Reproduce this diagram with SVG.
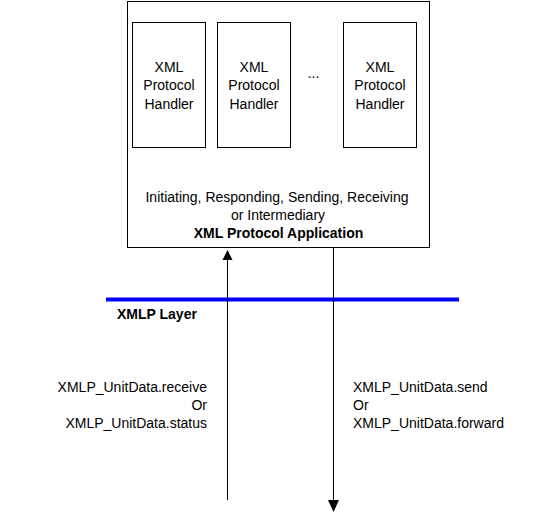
<svg xmlns="http://www.w3.org/2000/svg" width="560" height="514" viewBox="0 0 560 514">
<style>
.box{fill:#fff;stroke:#000;stroke-width:1}
.t{font-family:"Liberation Sans",Arial,sans-serif;font-size:14px;fill:#000}
.b{font-weight:bold}
.m{text-anchor:middle}
.e{text-anchor:end}
.ln{stroke:#000;stroke-width:1;fill:none}
</style>
<rect width="560" height="514" fill="#fff"/>
<g id="app">
<rect class="box" x="127.5" y="1.5" width="302" height="246"/>
<text class="t m" x="277" y="202">Initiating, Responding, Sending, Receiving</text>
<text class="t m" x="278" y="220">or Intermediary</text>
<text class="t b m" x="278.5" y="238">XML Protocol Application</text>
</g>
<g id="handler1">
<rect class="box" x="132.5" y="22.5" width="73" height="125"/>
<text class="t m" x="169" y="71.5">XML</text>
<text class="t m" x="169" y="90">Protocol</text>
<text class="t m" x="169" y="108.5">Handler</text>
</g>
<g id="handler2">
<rect class="box" x="217.5" y="22.5" width="73" height="125"/>
<text class="t m" x="254" y="71.5">XML</text>
<text class="t m" x="254" y="90">Protocol</text>
<text class="t m" x="254" y="108.5">Handler</text>
</g>
<g id="ellipsis">
<text class="t m" x="313.5" y="78">...</text>
</g>
<g id="handler3">
<rect class="box" x="343.5" y="22.5" width="73" height="125"/>
<text class="t m" x="380" y="71.5">XML</text>
<text class="t m" x="380" y="90">Protocol</text>
<text class="t m" x="380" y="108.5">Handler</text>
</g>
<g id="layer">
<line x1="106" y1="299.5" x2="459" y2="299.5" stroke="#0000ff" stroke-width="4"/>
<text class="t b" x="117" y="319">XMLP Layer</text>
</g>
<g id="connectors">
<line class="ln" x1="227.5" y1="500" x2="227.5" y2="258"/>
<polygon points="227.5,250 222.5,260 232.5,260" fill="#000"/>
<line class="ln" x1="333.5" y1="247" x2="333.5" y2="501"/>
<polygon points="333.5,512 328,500 339,500" fill="#000"/>
</g>
<g id="labels">
<text class="t e" x="207" y="392">XMLP_UnitData.receive</text>
<text class="t e" x="207" y="410">Or</text>
<text class="t e" x="207" y="428">XMLP_UnitData.status</text>
<text class="t" x="353" y="392">XMLP_UnitData.send</text>
<text class="t" x="353" y="410">Or</text>
<text class="t" x="353" y="428">XMLP_UnitData.forward</text>
</g>
</svg>
